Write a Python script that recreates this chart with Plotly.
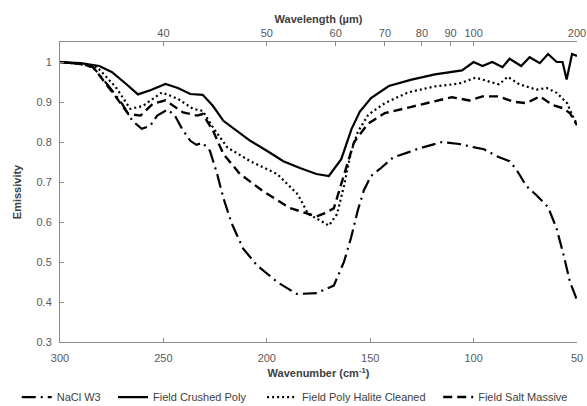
import plotly.graph_objects as go

# Wavenumber (cm-1) and emissivity values
wn_nacl = [300, 290, 284, 276, 270, 265, 260.5, 256.5, 253, 248, 244.4, 241, 237, 234, 231, 227.5,
           224, 221, 217, 211.5, 205, 195, 185.5, 176, 167.6, 162.7, 159.3, 156, 153, 149.6, 144.8,
           139, 131.7, 126.9, 115.3, 107, 99, 95, 89, 82.6, 79.4, 74.5, 69.6, 64, 60, 56.5, 53.4, 50]
em_nacl = [1.0, 0.995, 0.987, 0.937, 0.896, 0.853, 0.833, 0.84, 0.866, 0.881, 0.866, 0.833, 0.803,
           0.793, 0.798, 0.778, 0.72, 0.66, 0.597, 0.534, 0.493, 0.45, 0.42, 0.422, 0.441, 0.50, 0.56,
           0.629, 0.68, 0.715, 0.735, 0.761, 0.774, 0.783, 0.80, 0.795, 0.786, 0.782, 0.765, 0.752,
           0.732, 0.69, 0.667, 0.637, 0.586, 0.518, 0.45, 0.405]

wn_crushed = [300, 290, 281, 275, 268, 262.3, 256, 249, 243, 237, 231, 226, 221, 214, 208, 200, 192,
              184, 176, 170, 164, 159, 155, 149.6, 141, 130, 118.7, 105.6, 100, 95.7, 91, 86, 82.6, 77,
              72.9, 68, 64, 59.8, 57, 55, 52.4, 50]
em_crushed = [1.0, 0.997, 0.99, 0.975, 0.945, 0.919, 0.93, 0.945, 0.935, 0.92, 0.918, 0.89, 0.853,
              0.825, 0.803, 0.778, 0.752, 0.735, 0.72, 0.715, 0.757, 0.833, 0.876, 0.91, 0.94, 0.956,
              0.969, 0.979, 1.0, 0.99, 1.0, 0.987, 1.008, 0.99, 1.012, 0.997, 1.02, 1.0, 1.0, 0.956,
              1.02, 1.015]

wn_cleaned = [300, 290, 282, 273, 266, 260, 250.7, 243, 235.7, 231, 226, 219, 208, 195, 185, 180, 176,
              170, 166, 162.7, 159.3, 156, 151, 143, 131.7, 118.7, 107, 99, 92.5, 87.7, 83.5, 77.8,
              69.6, 64.7, 59.8, 54.8, 51.5, 50]
em_cleaned = [1.0, 0.995, 0.987, 0.937, 0.883, 0.89, 0.924, 0.908, 0.883, 0.878, 0.836, 0.786, 0.752,
              0.72, 0.669, 0.62, 0.609, 0.591, 0.62, 0.69, 0.774, 0.825, 0.868, 0.897, 0.924, 0.939,
              0.946, 0.961, 0.951, 0.944, 0.963, 0.944, 0.931, 0.935, 0.923, 0.897, 0.858, 0.846]

wn_massive = [300, 290, 284, 274, 267, 261, 255, 249, 240.5, 233.7, 231, 226, 221, 213, 201.8, 188.8,
              176, 172.5, 167.6, 162.7, 157.8, 151, 143, 130, 118.7, 110.5, 102, 95.7, 87.7, 81, 74.6,
              67.9, 62, 56.5, 53.4, 50]
em_massive = [1.0, 0.995, 0.987, 0.92, 0.87, 0.866, 0.896, 0.904, 0.874, 0.866, 0.87, 0.828, 0.77,
              0.72, 0.677, 0.635, 0.614, 0.621, 0.634, 0.715, 0.80, 0.846, 0.872, 0.888, 0.901, 0.912,
              0.904, 0.914, 0.914, 0.901, 0.897, 0.914, 0.893, 0.884, 0.872, 0.842]

wavelength_ticks = [40, 50, 60, 70, 80, 90, 100, 200]
y_ticks = [0.3, 0.4, 0.5, 0.6, 0.7, 0.8, 0.9, 1.0]
y_labels = ["0.3", "0.4", "0.5", "0.6", "0.7", "0.8", "0.9", "1"]

FONT = "Liberation Sans, Arial, sans-serif"
TICKC = "#595959"
AXC = "#8c8c8c"

fig = go.Figure()
fig.add_trace(go.Scatter(x=wn_nacl, y=em_nacl, mode="lines", name="NaCl W3", legend="legend",
                         line=dict(color="black", width=2.2, dash="14px,5px,2px,5px")))
fig.add_trace(go.Scatter(x=wn_crushed, y=em_crushed, mode="lines", name="Field Crushed Poly",
                         legend="legend2", line=dict(color="black", width=2.2)))
fig.add_trace(go.Scatter(x=wn_cleaned, y=em_cleaned, mode="lines", name="Field Poly Halite Cleaned",
                         legend="legend3", line=dict(color="black", width=2.2, dash="2px,3px")))
fig.add_trace(go.Scatter(x=wn_massive, y=em_massive, mode="lines", name="Field Salt Massive",
                         legend="legend4", line=dict(color="black", width=2.4, dash="9px,5px")))
# invisible trace to carry the top (wavelength) axis
fig.add_trace(go.Scatter(x=[300, 50], y=[0.3, 0.3], xaxis="x2", mode="lines",
                         line=dict(width=0), showlegend=False, hoverinfo="skip"))


def leg(xpos):
    return dict(orientation="h", x=xpos, xref="container", xanchor="left",
                y=0.022, yref="container", yanchor="middle",
                font=dict(size=11, color="#404040"), itemwidth=30,
                bgcolor="rgba(0,0,0,0)")


fig.update_layout(
    width=587, height=406,
    margin=dict(l=60, r=10, t=42, b=64, autoexpand=False),
    paper_bgcolor="white", plot_bgcolor="white",
    font=dict(family=FONT, size=11, color=TICKC),
    showlegend=True,
    legend=leg(0.0285), legend2=leg(0.1925), legend3=leg(0.4465), legend4=leg(0.7465),
    xaxis=dict(range=[300, 50], showgrid=False, zeroline=False,
               showline=True, linecolor=AXC, linewidth=1,
               ticks="inside", ticklen=4, tickcolor=AXC, ticklabelstandoff=6,
               tickvals=[300, 250, 200, 150, 100, 50],
               tickfont=dict(size=11, color=TICKC),
               title=dict(text="<b>Wavenumber (cm<sup>-1</sup>)</b>", standoff=6,
                          font=dict(size=11, color="#404040"))),
    xaxis2=dict(overlaying="x", side="top", range=[300, 50], showgrid=False, zeroline=False,
                showline=True, linecolor=AXC, linewidth=1,
                ticks="inside", ticklen=4, tickcolor=AXC, tickangle=0,
                tickvals=[10000 / w for w in wavelength_ticks],
                ticktext=[str(w) for w in wavelength_ticks],
                tickfont=dict(size=11, color=TICKC),
                title=dict(text="<b>Wavelength (µm)</b>", standoff=0,
                           font=dict(size=11, color="#404040"))),
    yaxis=dict(range=[0.3, 1.05], showgrid=False, zeroline=False,
               showline=True, linecolor=AXC, linewidth=1,
               ticks="inside", ticklen=4, tickcolor=AXC, ticklabelstandoff=5,
               tickvals=y_ticks, ticktext=y_labels,
               tickfont=dict(size=11, color=TICKC),
               title=dict(text="<b>Emissivity</b>", standoff=12,
                          font=dict(size=11, color="#404040"))),
)

fig.write_html("out.html", config={"displayModeBar": False},
               post_script="document.body.style.margin='0px';")
